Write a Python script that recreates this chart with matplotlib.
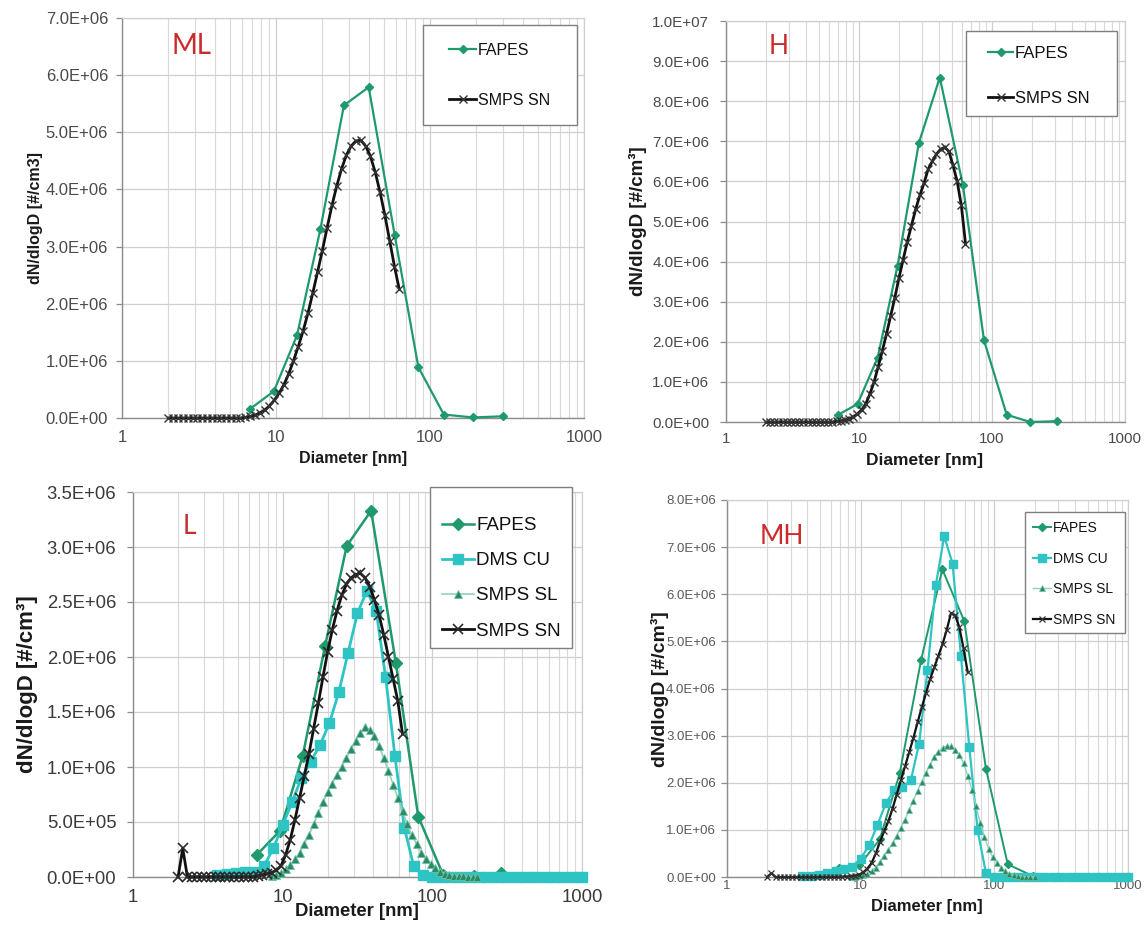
import numpy as np
import matplotlib
matplotlib.use('Agg')
import matplotlib.pyplot as plt
from matplotlib.ticker import FuncFormatter, FixedLocator, LogLocator, NullFormatter
from matplotlib.patches import Rectangle

# ---------------- data (values in 1E6 #/cm3) ----------------
# SMPS SN diameters [nm]
sn_d = [2.00, 2.15, 2.31, 2.48, 2.67, 2.87, 3.08, 3.31, 3.56, 3.82, 4.11, 4.41, 4.74,
        5.10, 5.48, 5.88, 6.32, 6.80, 7.30, 7.85, 8.43, 9.06, 9.74, 10.46, 11.24,
        12.08, 12.98, 13.95, 14.99, 16.11, 17.31, 18.60, 19.99, 21.48, 23.08, 24.80,
        26.65, 28.64, 30.78, 33.07, 35.54, 38.19, 41.04, 44.10, 47.39, 50.93, 54.73,
        58.81, 63.20]
# SMPS SL diameters [nm]
sl_d = [8.43, 9.06, 9.74, 10.46, 11.24, 12.08, 12.98, 13.95, 14.99, 16.11, 17.31,
        18.60, 19.99, 21.48, 23.08, 24.80, 26.65, 28.64, 30.78, 33.07, 35.54, 38.19,
        41.04, 44.10, 47.39, 50.93, 54.73, 58.81, 63.20, 67.92, 72.99, 78.43, 84.28,
        90.57, 97.33, 104.6, 112.4, 120.8, 129.8, 139.5, 149.9, 161.1, 173.1, 186.0,
        199.9]
# DMS diameters [nm]
dms_d = [3.65, 4.22, 4.87, 5.62, 6.49, 7.50, 8.66, 10.0, 11.55, 13.34, 15.40, 17.78,
         20.54, 23.71, 27.38, 31.62, 36.52, 42.17, 48.70, 56.23, 64.94, 74.99, 86.60,
         100.0, 115.5, 133.4, 154.0, 177.8, 205.4, 237.1, 273.8, 316.2, 365.2, 421.7,
         487.0, 562.3, 649.4, 749.9, 866.0, 1000.0]

# ---- ML ----
ml_fapes_d = [6.8, 9.7, 13.7, 19.4, 27.6, 40.0, 59.0, 84.0, 123.0, 190.0, 300.0]
ml_fapes_v = [0.16, 0.47, 1.45, 3.3, 5.47, 5.79, 3.2, 0.89, 0.06, 0.01, 0.03]
ml_sn_v = [0, 0, 0, 0, 0, 0, 0, 0, 0, 0, 0, 0, 0, 0, 0, 0,
           0.01, 0.03, 0.05, 0.09, 0.14, 0.21, 0.31, 0.43, 0.58, 0.77, 1.0, 1.25,
           1.52, 1.83, 2.18, 2.55, 2.93, 3.33, 3.72, 4.06, 4.36, 4.6, 4.76, 4.85,
           4.86, 4.76, 4.58, 4.3, 3.95, 3.55, 3.1, 2.65, 2.25]

# ---- H ----
h_fapes_d = [6.9, 9.75, 13.8, 19.5, 28.2, 40.5, 60.5, 87.0, 129.0, 194.0, 310.0]
h_fapes_v = [0.17, 0.45, 1.6, 3.9, 6.96, 8.59, 5.9, 2.04, 0.18, 0.0, 0.02]
h_sn_v = [0, 0, 0, 0, 0, 0, 0, 0, 0, 0, 0, 0, 0, 0, 0, 0,
          0.0, 0.02, 0.03, 0.05, 0.08, 0.13, 0.2, 0.3, 0.45, 0.7, 1.0, 1.38,
          1.78, 2.2, 2.65, 3.1, 3.6, 4.05, 4.5, 4.9, 5.3, 5.65, 5.95, 6.3,
          6.5, 6.68, 6.8, 6.85, 6.75, 6.4, 6.0, 5.4, 4.45]

# ---- L ----
l_fapes_d = [6.7, 9.6, 13.6, 19.2, 26.8, 39.0, 57.0, 80.5, 118.0, 190.0, 288.0]
l_fapes_v = [0.2, 0.42, 1.1, 2.1, 3.01, 3.33, 1.95, 0.55, 0.02, 0.01, 0.04]
l_dms_v = [0.02, 0.03, 0.04, 0.05, 0.05, 0.1, 0.26, 0.47, 0.68, 0.9, 1.05, 1.2,
           1.4, 1.68, 2.04, 2.4, 2.6, 2.42, 1.82, 1.1, 0.45, 0.1, 0.02,
           0.0, 0.0, 0.0, 0.0, 0.0, 0.0, 0.0, 0.0, 0.0, 0.0, 0.0,
           0.0, 0.0, 0.0, 0.0, 0.0, 0.0]
l_sl_v = [0.01, 0.02, 0.04, 0.07, 0.11, 0.16, 0.22, 0.3, 0.38, 0.48, 0.58,
          0.68, 0.77, 0.85, 0.93, 1.0, 1.08, 1.16, 1.24, 1.31, 1.36, 1.34,
          1.28, 1.19, 1.08, 0.96, 0.84, 0.72, 0.6, 0.48, 0.38, 0.3, 0.22,
          0.16, 0.12, 0.08, 0.05, 0.03, 0.02, 0.01, 0.01, 0.01, 0.0, 0.0, 0.0]
l_sn_v = [0, 0.26, 0, 0, 0, 0, 0, 0, 0, 0, 0, 0, 0, 0, 0, 0,
          0.0, 0.01, 0.02, 0.03, 0.04, 0.06, 0.1, 0.2, 0.34, 0.52, 0.72, 0.92,
          1.12, 1.35, 1.58, 1.82, 2.05, 2.25, 2.42, 2.56, 2.66, 2.72, 2.75, 2.76,
          2.72, 2.64, 2.52, 2.38, 2.2, 2.0, 1.8, 1.6, 1.3]

# ---- MH ----
mh_fapes_d = [6.93, 9.8, 13.9, 19.6, 28.3, 40.8, 59.6, 86.5, 126.0, 194.0, 300.0]
mh_fapes_v = [0.2, 0.25, 0.8, 2.2, 4.6, 6.53, 5.43, 2.3, 0.27, 0.02, 0.0]
mh_dms_v = [0.02, 0.03, 0.05, 0.08, 0.12, 0.17, 0.22, 0.39, 0.67, 1.1, 1.56, 1.84,
            1.91, 2.05, 2.83, 4.39, 6.2, 7.23, 6.65, 4.7, 2.76, 0.99, 0.08,
            0.0, 0.0, 0.0, 0.0, 0.0, 0.0, 0.0, 0.0, 0.0, 0.0, 0.0,
            0.0, 0.0, 0.0, 0.0, 0.0, 0.0]
mh_sl_v = [0.0, 0.01, 0.02, 0.04, 0.07, 0.13, 0.2, 0.32, 0.45, 0.58, 0.72,
           0.88, 1.05, 1.22, 1.42, 1.62, 1.83, 2.02, 2.2, 2.38, 2.55, 2.66,
           2.74, 2.78, 2.77, 2.7, 2.58, 2.42, 2.15, 1.85, 1.5, 1.15, 0.85,
           0.6, 0.42, 0.3, 0.2, 0.12, 0.07, 0.04, 0.02, 0.01, 0.01, 0.0, 0.0]
mh_sn_v = [0, 0.08, 0, 0, 0, 0, 0, 0, 0, 0, 0, 0, 0, 0, 0, 0,
           0.0, 0.0, 0.01, 0.01, 0.02, 0.03, 0.05, 0.1, 0.18, 0.3, 0.5, 0.75,
           0.97, 1.18, 1.45, 1.75, 2.05, 2.35, 2.65, 2.95, 3.28, 3.6, 3.9, 4.2,
           4.45, 4.7, 4.95, 5.25, 5.6, 5.55, 5.3, 4.85, 4.35]

x_ticks = [1, 10, 100, 1000]
x_ticklabels = ['1', '10', '100', '1000']

# ---------------- styling ----------------
W, H = 1147, 927
fig = plt.figure(figsize=(W / 100, H / 100), dpi=100)
fig.patch.set_facecolor('white')

C_FAPES = '#1f9a6c'
C_DMS = '#2ec4c4'
C_SL = '#2a8a63'
C_SN = '#111111'
RED = '#cc2b2b'
REG = ['Liberation Sans', 'DejaVu Sans']
NAR = ['Liberation Sans Narrow', 'Liberation Sans', 'DejaVu Sans']


def px_axes(l, r, t, b):
    return fig.add_axes([l / W, 1 - b / H, (r - l) / W, (b - t) / H])


def style_axes(ax, ymax, ystep, tfs, fam, xpad, ypad, tcol):
    ax.set_xscale('log')
    ax.set_xlim(1, 1000)
    ax.set_ylim(0, ymax)
    ax.xaxis.set_major_locator(FixedLocator(x_ticks))
    ax.xaxis.set_major_formatter(FuncFormatter(
        lambda v, p: x_ticklabels[x_ticks.index(int(round(v)))] if int(round(v)) in x_ticks else ''))
    ax.xaxis.set_minor_locator(LogLocator(base=10, subs=np.arange(2, 10), numticks=20))
    ax.xaxis.set_minor_formatter(NullFormatter())
    ax.yaxis.set_major_locator(FixedLocator(np.arange(0, ymax + ystep / 2, ystep)))
    ax.yaxis.set_major_formatter(FuncFormatter(lambda v, p: f"{v:.1E}"))
    ax.grid(True, which='major', axis='both', color='#cfcfcf', lw=0.9)
    ax.grid(True, which='minor', axis='x', color='#d9d9d9', lw=0.8)
    ax.set_axisbelow(True)
    for s in ['top', 'right']:
        ax.spines[s].set_color('#cfcfcf')
        ax.spines[s].set_linewidth(0.9)
    for s in ['left', 'bottom']:
        ax.spines[s].set_color('#8c8c8c')
        ax.spines[s].set_linewidth(1.0)
    ax.tick_params(axis='x', which='both', length=0, pad=xpad, colors=tcol)
    ax.tick_params(axis='y', which='major', length=4.5, width=0.9, direction='out',
                   pad=ypad, color='#8c8c8c', labelcolor=tcol)
    for lab in ax.get_xticklabels() + ax.get_yticklabels():
        lab.set_fontsize(tfs)
        lab.set_family(fam)


def legend_box(ax, l, r, t, b):
    ax.add_patch(Rectangle((l / W, 1 - b / H), (r - l) / W, (b - t) / H,
                           transform=fig.transFigure, facecolor='white',
                           edgecolor='#7f7f7f', lw=1.0, zorder=5, clip_on=False))


def add_legend(ax, hx, ty, fs, fam, hl, ls):
    leg = ax.legend(loc='upper left', bbox_to_anchor=(hx / W, 1 - ty / H),
                    bbox_transform=fig.transFigure, frameon=False, borderpad=0,
                    borderaxespad=0, handlelength=hl, handletextpad=0.12,
                    labelspacing=ls, prop={'family': fam, 'size': fs})
    leg.set_zorder(6)
    for t in leg.get_texts():
        t.set_color('#111111')
    return leg


def arr(v):
    return np.array(v) * 1e6


# ---------------- ML ----------------
ax1 = px_axes(122, 584, 18, 418)
ax1.plot(ml_fapes_d, arr(ml_fapes_v), color=C_FAPES, lw=1.6, marker='D', ms=4.5,
         clip_on=False, label='FAPES', zorder=3)
ax1.plot(sn_d, arr(ml_sn_v), color=C_SN, lw=2.0, marker='x', ms=6, mew=1.0,
         mec='#333333', clip_on=False, label='SMPS SN', zorder=4)
style_axes(ax1, 7e6, 1e6, 12, REG, 8.6, 5.5, '#4a4a4a')
fig.text(36 / W, 1 - 218 / H, 'dN/dlogD [#/cm3]', rotation=90, ha='center', va='center',
         fontsize=11.5, fontweight='bold', family=REG, color='#1a1a1a')
fig.text(353 / W, 1 - 458 / H, 'Diameter [nm]', ha='center', va='center',
         fontsize=11.5, fontweight='bold', family=REG, color='#1a1a1a')
fig.text(192 / W, 1 - 46 / H, 'ML', ha='center', va='center', fontsize=20,
         family=['Lato', 'DejaVu Sans'], color=RED)
legend_box(ax1, 423, 577, 25, 125)
add_legend(ax1, 449, 43, 11.5, REG, 1.7, 2.18)

# ---------------- H ----------------
ax2 = px_axes(726, 1125, 21, 422)
ax2.plot(h_fapes_d, arr(h_fapes_v), color=C_FAPES, lw=1.6, marker='D', ms=4.5,
         clip_on=False, label='FAPES', zorder=3)
ax2.plot(sn_d, arr(h_sn_v), color=C_SN, lw=2.0, marker='x', ms=6, mew=1.0,
         mec='#333333', clip_on=False, label='SMPS SN', zorder=4)
style_axes(ax2, 1e7, 1e6, 11, REG, 7.5, 7.5, '#4a4a4a')
fig.text(638 / W, 1 - 221 / H, 'dN/dlogD [#/cm³]', rotation=90, ha='center', va='center',
         fontsize=13.5, fontweight='bold', family=REG, color='#1a1a1a')
fig.text(925 / W, 1 - 460 / H, 'Diameter [nm]', ha='center', va='center',
         fontsize=12.5, fontweight='bold', family=REG, color='#1a1a1a')
fig.text(779 / W, 1 - 47 / H, 'H', ha='center', va='center', fontsize=19,
         family=['Lato', 'DejaVu Sans'], color=RED)
legend_box(ax2, 966, 1117, 31, 116)
add_legend(ax2, 988, 46, 12, REG, 1.5, 1.79)

# ---------------- L ----------------
ax3 = px_axes(133, 582, 492, 877)
ax3.plot(l_fapes_d, arr(l_fapes_v), color=C_FAPES, lw=1.8, marker='D', ms=6.5,
         clip_on=False, label='FAPES', zorder=3)
ax3.plot(dms_d, arr(l_dms_v), color=C_DMS, lw=2.0, marker='s', ms=7,
         clip_on=False, label='DMS CU', zorder=3)
ax3.plot(sl_d, arr(l_sl_v), color='#8fd3bd', lw=1.2, marker='^', ms=5.5, mfc=C_SL,
         mec='#6fc0a5', mew=0.6, clip_on=False, label='SMPS SL', zorder=3)
ax3.plot(sn_d, arr(l_sn_v), color=C_SN, lw=2.0, marker='x', ms=7.5, mew=1.2,
         mec='#2a2a2a', clip_on=False, label='SMPS SN', zorder=4)
style_axes(ax3, 3.5e6, 0.5e6, 13.3, REG, 8.6, 7.5, '#3a3a3a')
fig.text(28 / W, 1 - 684 / H, 'dN/dlogD [#/cm³]', rotation=90, ha='center', va='center',
         fontsize=16, fontweight='bold', family=REG, color='#1a1a1a')
fig.text(357 / W, 1 - 911 / H, 'Diameter [nm]', ha='center', va='center',
         fontsize=13.3, fontweight='bold', family=REG, color='#1a1a1a')
fig.text(189 / W, 1 - 527 / H, 'L', ha='center', va='center', fontsize=19,
         family=['Lato', 'DejaVu Sans'], color=RED)
legend_box(ax3, 430, 572, 487, 648)
add_legend(ax3, 442, 517, 13.5, REG, 1.7, 0.96)

# ---------------- MH ----------------
ax4 = px_axes(727, 1128, 500, 877)
ax4.plot(mh_fapes_d, arr(mh_fapes_v), color=C_FAPES, lw=1.4, marker='D', ms=4.2,
         clip_on=False, label='FAPES', zorder=3)
ax4.plot(dms_d, arr(mh_dms_v), color=C_DMS, lw=1.6, marker='s', ms=5.5,
         clip_on=False, label='DMS CU', zorder=3)
ax4.plot(sl_d, arr(mh_sl_v), color='#8fd3bd', lw=1.0, marker='^', ms=4, mfc=C_SL,
         mec='#6fc0a5', mew=0.5, clip_on=False, label='SMPS SL', zorder=3)
ax4.plot(sn_d, arr(mh_sn_v), color=C_SN, lw=1.6, marker='x', ms=5, mew=0.9,
         mec='#333333', clip_on=False, label='SMPS SN', zorder=4)
style_axes(ax4, 8e6, 1e6, 9.5, NAR, 2.5, 3.5, '#5a5a5a')
fig.text(660 / W, 1 - 689 / H, 'dN/dlogD [#/cm³]', rotation=90, ha='center', va='center',
         fontsize=14, fontweight='bold', family=NAR, color='#1a1a1a')
fig.text(927 / W, 1 - 907 / H, 'Diameter [nm]', ha='center', va='center',
         fontsize=12, fontweight='bold', family=NAR, color='#1a1a1a')
fig.text(782 / W, 1 - 537 / H, 'MH', ha='center', va='center', fontsize=19,
         family=['Lato', 'DejaVu Sans'], color=RED)
legend_box(ax4, 1025, 1125, 512, 633)
add_legend(ax4, 1033, 521, 10, NAR, 1.3, 1.2)

fig.savefig('out.png', dpi=100, facecolor='white')
